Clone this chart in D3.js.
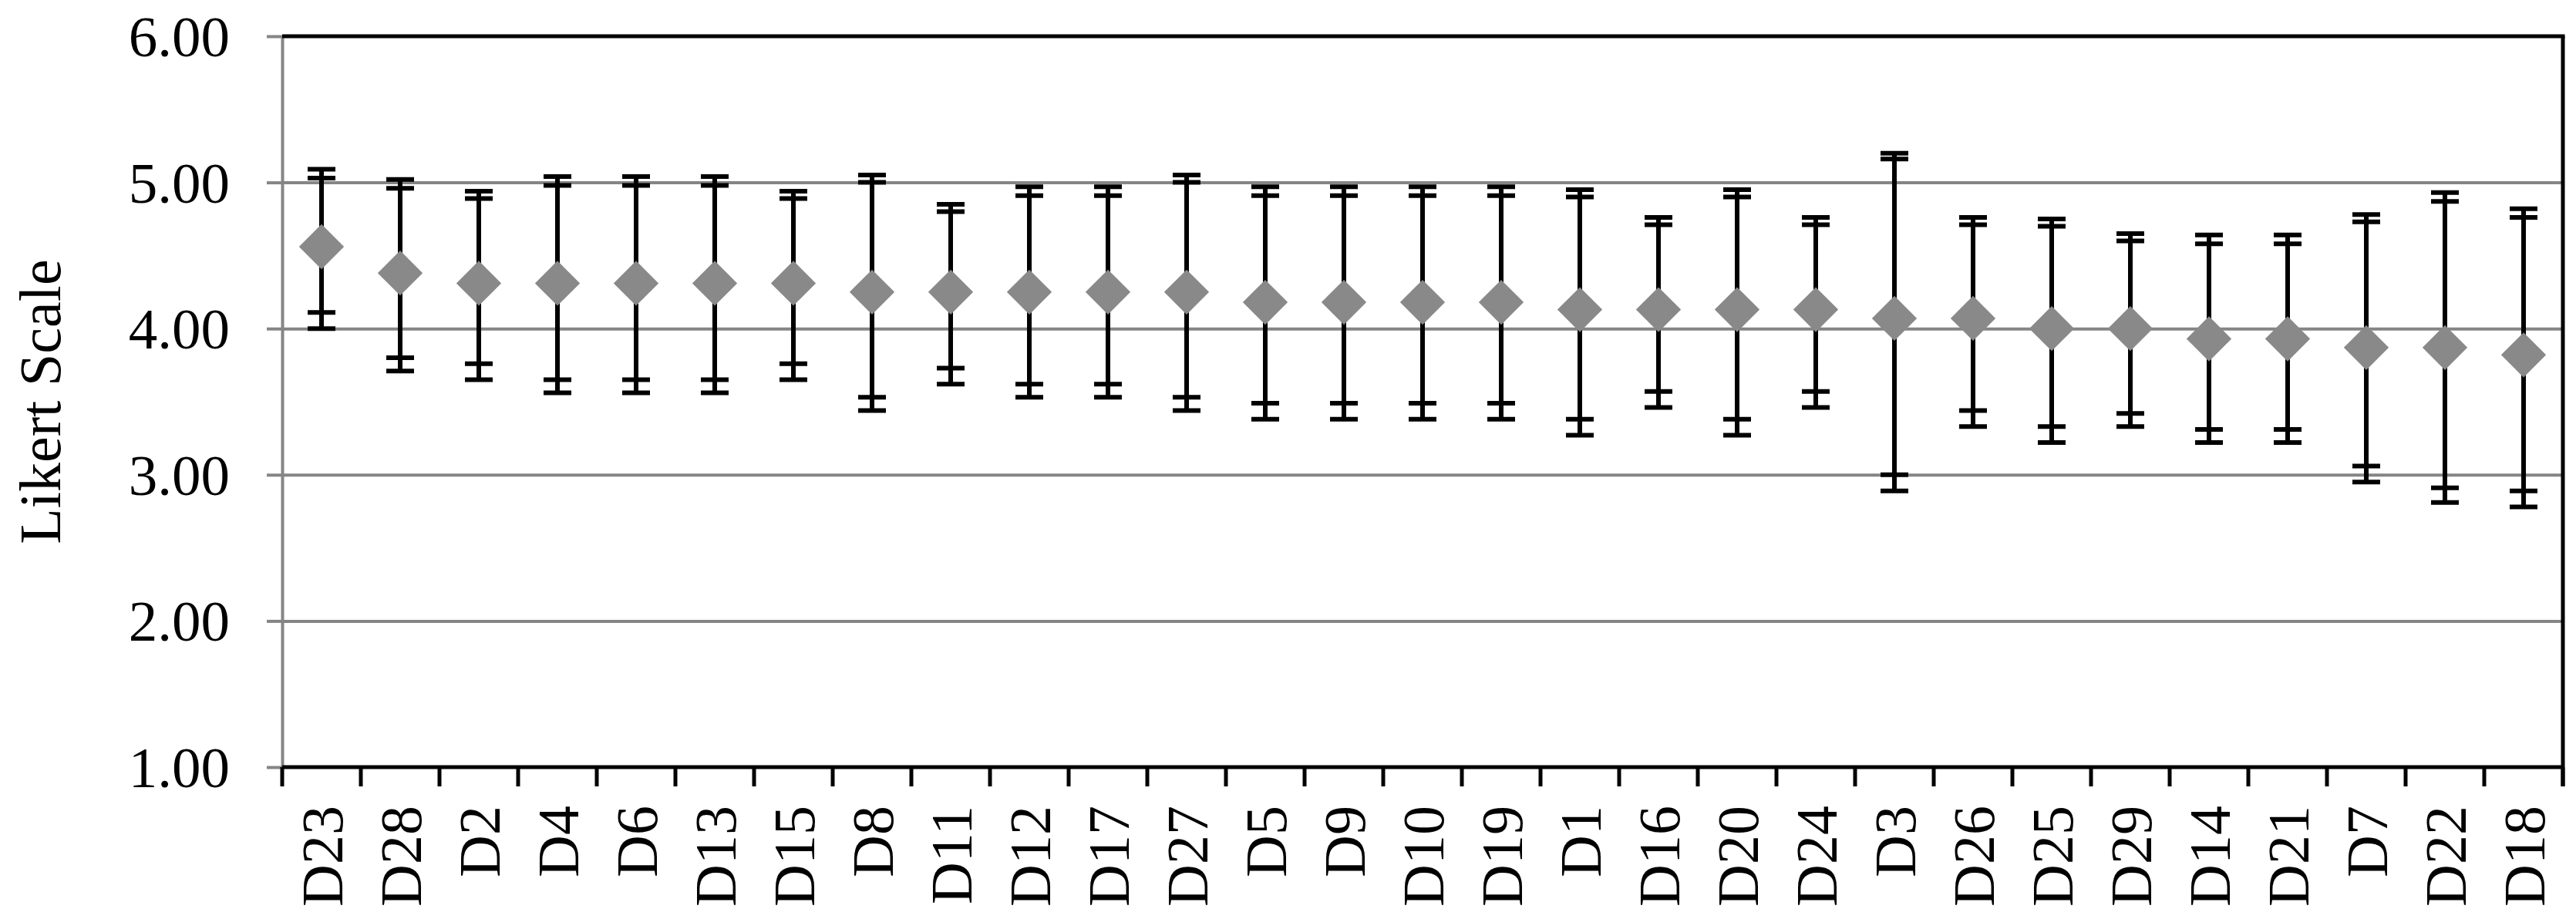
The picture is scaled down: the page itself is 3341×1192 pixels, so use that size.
<!DOCTYPE html>
<html lang="en">
<head>
  <meta charset="UTF-8">
  <title>Likert Scale - mean and error bars</title>
  <script src="https://d3js.org/d3.v7.min.js"></script>
  <style>
    body { margin: 0; background: #fff; }
    svg { display: block; }
    text { font-family: "Liberation Serif", "Times New Roman", serif; }
    .grid line { stroke: #858585; stroke-width: 4px; }
    .grid path { display: none; }
    .yaxis path, .yaxis line { stroke: #858585; stroke-width: 4px; }
    .xaxis path, .xaxis line { display: none; }
    .bar line { stroke: #000; stroke-width: 6px; }
  </style>
</head>
<body>
  <svg width="3341" height="1192"></svg>

  <script>
    const categories = ["D23", "D28", "D2", "D4", "D6", "D13", "D15", "D8", "D11", "D12",
                        "D17", "D27", "D5", "D9", "D10", "D19", "D1", "D16", "D20", "D24",
                        "D3", "D26", "D25", "D29", "D14", "D21", "D7", "D22", "D18"];
    const means   = [4.56, 4.38, 4.31, 4.31, 4.31, 4.31, 4.31, 4.25, 4.25, 4.25,
                     4.25, 4.25, 4.18, 4.18, 4.18, 4.18, 4.13, 4.13, 4.13, 4.13,
                     4.07, 4.07, 4.00, 4.00, 3.93, 3.93, 3.87, 3.87, 3.82];
    // two overlaid error bars per item: outer (A) and inner (B) ends
    const upperA  = [5.09, 5.02, 4.94, 5.04, 5.04, 5.04, 4.94, 5.05, 4.85, 4.97,
                     4.97, 5.05, 4.97, 4.97, 4.97, 4.97, 4.95, 4.76, 4.95, 4.76,
                     5.20, 4.76, 4.75, 4.65, 4.64, 4.64, 4.78, 4.93, 4.82];
    const upperB  = [5.03, 4.96, 4.89, 4.98, 4.98, 4.98, 4.89, 5.00, 4.80, 4.91,
                     4.91, 5.00, 4.91, 4.91, 4.91, 4.91, 4.90, 4.71, 4.90, 4.71,
                     5.16, 4.71, 4.70, 4.60, 4.58, 4.58, 4.73, 4.87, 4.76];
    const lowerB  = [4.11, 3.80, 3.76, 3.65, 3.65, 3.65, 3.76, 3.53, 3.73, 3.62,
                     3.62, 3.53, 3.49, 3.49, 3.49, 3.49, 3.38, 3.57, 3.38, 3.57,
                     3.00, 3.44, 3.33, 3.42, 3.31, 3.31, 3.06, 2.91, 2.89];
    const lowerA  = [4.00, 3.71, 3.65, 3.56, 3.56, 3.56, 3.65, 3.44, 3.62, 3.53,
                     3.53, 3.44, 3.38, 3.38, 3.38, 3.38, 3.27, 3.46, 3.27, 3.46,
                     2.89, 3.33, 3.22, 3.33, 3.22, 3.22, 2.95, 2.81, 2.78];
    const yTicks  = [1, 2, 3, 4, 5, 6];
    const yTitle  = "Likert Scale";

    const svg = d3.select("svg");
    const plotLeft = 366, plotRight = 3324, plotTop = 47, plotBottom = 995;

    const data = categories.map((c, i) => ({
      name: c, mean: means[i], ua: upperA[i], ub: upperB[i], lb: lowerB[i], la: lowerA[i]
    }));

    const x = d3.scaleBand().domain(categories).range([plotLeft, plotRight]).padding(0);
    const y = d3.scaleLinear().domain([1, 6]).range([plotBottom, plotTop]);
    const cx = d => x(d.name) + x.bandwidth() / 2;

    // gridlines (2..5)
    svg.append("g")
      .attr("class", "grid")
      .attr("transform", `translate(${plotLeft},0)`)
      .call(d3.axisLeft(y).tickValues(yTicks.filter(v => v > 1 && v < 6))
              .tickSize(-(plotRight - plotLeft)).tickFormat(""));

    // y axis
    const ya = svg.append("g")
      .attr("class", "yaxis")
      .attr("transform", `translate(${plotLeft},0)`)
      .call(d3.axisLeft(y).tickValues(yTicks).tickFormat(d3.format(".2f"))
              .tickSize(20).tickPadding(48).tickSizeOuter(0))
      .attr("font-family", null)
      .attr("font-size", null);
    ya.selectAll("text")
      .attr("fill", "#000")
      .style("font-size", "75px")
      .attr("dy", "0.34em");

    // top and right borders, bottom axis line
    svg.append("line").attr("x1", plotLeft).attr("x2", plotRight + 2.5)
      .attr("y1", y(6)).attr("y2", y(6)).attr("stroke", "#000").attr("stroke-width", 5);
    svg.append("line").attr("x1", plotRight).attr("x2", plotRight)
      .attr("y1", y(6)).attr("y2", plotBottom + 25).attr("stroke", "#000").attr("stroke-width", 5);
    svg.append("line").attr("x1", plotLeft).attr("x2", plotRight)
      .attr("y1", plotBottom).attr("y2", plotBottom).attr("stroke", "#000").attr("stroke-width", 5);

    // x tick marks at category boundaries
    const bounds = categories.map(c => x(c)).concat([plotRight]);
    svg.append("g").selectAll("line")
      .data(bounds)
      .join("line")
      .attr("x1", d => d).attr("x2", d => d)
      .attr("y1", plotBottom).attr("y2", plotBottom + 25)
      .attr("stroke", "#000").attr("stroke-width", 5);

    // x labels
    const xa = svg.append("g")
      .attr("class", "xaxis")
      .attr("transform", `translate(0,${plotBottom})`)
      .call(d3.axisBottom(x).tickSize(0))
      .attr("font-family", null)
      .attr("font-size", null);
    xa.selectAll("text")
      .attr("fill", "#000")
      .style("font-size", "76px")
      .attr("transform", "rotate(-90)")
      .attr("text-anchor", "end")
      .attr("x", -50)
      .attr("y", 0)
      .attr("dy", "0.35em");

    // y title
    svg.append("text")
      .attr("transform", `translate(78,${(plotTop + plotBottom) / 2}) rotate(-90)`)
      .attr("text-anchor", "middle")
      .style("font-size", "76px")
      .attr("fill", "#000")
      .text(yTitle);

    // error bars
    const capW = 36;
    const bars = svg.append("g").selectAll("g.bar")
      .data(data)
      .join("g")
      .attr("class", "bar");
    bars.append("line")
      .attr("x1", cx).attr("x2", cx)
      .attr("y1", d => y(d.ua)).attr("y2", d => y(d.la));
    ["ua", "ub", "lb", "la"].forEach(k => {
      bars.append("line")
        .attr("x1", d => cx(d) - capW / 2).attr("x2", d => cx(d) + capW / 2)
        .attr("y1", d => y(d[k])).attr("y2", d => y(d[k]));
    });

    // mean markers
    svg.append("g").selectAll("path")
      .data(data)
      .join("path")
      .attr("d", d3.symbol(d3.symbolSquare, 1700))
      .attr("transform", d => `translate(${cx(d)},${y(d.mean)}) rotate(45)`)
      .attr("fill", "#898989");
  </script>
</body>
</html>
